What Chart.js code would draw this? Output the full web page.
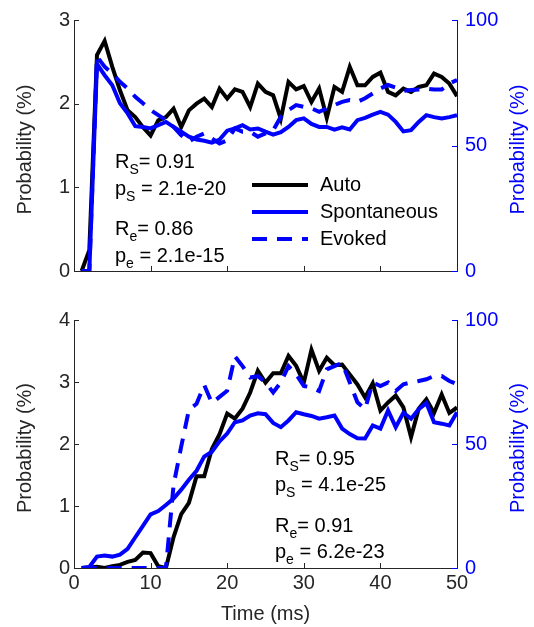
<!DOCTYPE html>
<html>
<head>
<meta charset="utf-8">
<script src="https://cdn.jsdelivr.net/npm/chart.js@4.4.1/dist/chart.umd.min.js"></script>
<style>
  body { margin: 0; background: #fff; }
  #wrap { position: relative; width: 534px; height: 627px; }
  canvas { position: absolute; left: 0; }
</style>
</head>
<body>
<div id="wrap">
  <canvas id="topChart" width="534" height="300" style="top:0"></canvas>
  <canvas id="bottomChart" width="534" height="327" style="top:300px"></canvas>
</div>
<script>
// Time bins (ms)
const timeMs = [1, 2, 3, 4, 5, 6, 7, 8, 9, 10,
  11, 12, 13, 14, 15, 16, 17, 18, 19, 20,
  21, 22, 23, 24, 25, 26, 27, 28, 29, 30,
  31, 32, 33, 34, 35, 36, 37, 38, 39, 40,
  41, 42, 43, 44, 45, 46, 47, 48, 49, 50];

// Upper panel: auto (left axis, %), spontaneous / evoked (right axis, %)
const autoTop = [0, 0.25, 2.58, 2.75, 2.44, 2.16, 1.92, 1.84, 1.72, 1.62,
  1.80, 1.84, 1.94, 1.72, 1.92, 2.00, 2.06, 1.96, 2.18, 2.06,
  2.17, 2.14, 1.96, 2.24, 2.14, 2.10, 1.82, 2.26, 2.17, 2.21,
  2.02, 2.18, 1.83, 2.20, 2.14, 2.44, 2.22, 2.22, 2.32, 2.37,
  2.14, 2.10, 2.18, 2.14, 2.20, 2.22, 2.36, 2.32, 2.24, 2.09];
const spontTop = [0, 0, 82.5, 78.0, 74.0, 66.8, 62.8, 57.7, 57.4, 56.8,
  58.1, 59.4, 57.4, 55.5, 53.5, 52.4, 51.9, 51.1, 52.4, 55.9,
  56.8, 58.1, 56.4, 56.8, 55.5, 54.3, 55.3, 57.4, 60.1, 60.8,
  58.6, 57.4, 57.4, 56.3, 57.2, 56.4, 60.1, 61.0, 62.3, 63.4,
  62.3, 59.4, 55.6, 56.1, 59.4, 62.1, 61.3, 60.8, 61.3, 62.1];
const evokedTop = [0, 0, 85.4, 81.4, 78.7, 75.4, 72.7, 69.4, 66.8, 64.1,
  62.1, 60.1, 57.4, 54.1, 51.5, 53.5, 54.8, 52.8, 50.8, 52.1,
  56.8, 55.5, 55.5, 53.5, 54.8, 56.1, 61.4, 64.1, 66.1, 65.4,
  64.8, 63.4, 64.8, 66.1, 67.4, 68.1, 67.4, 68.8, 70.7, 72.7,
  74.1, 73.1, 71.8, 72.1, 72.3, 72.7, 72.3, 72.3, 74.7, 76.1];

// Lower panel
const autoBottom = [0, 0.01, 0.02, 0, 0.03, 0.05, 0.10, 0.13, 0.25, 0.24,
  0.03, 0, 0.50, 0.87, 1.05, 1.48, 1.48, 1.92, 2.16, 2.49,
  2.41, 2.57, 2.83, 3.18, 2.99, 3.14, 3.14, 3.42, 3.26, 2.99,
  3.52, 3.18, 3.39, 3.27, 3.28, 3.12, 2.96, 2.75, 2.98, 2.54,
  2.67, 2.78, 2.59, 2.11, 2.57, 2.72, 2.50, 2.80, 2.50, 2.59];
const spontBottom = [0, 0.4, 4.6, 5.0, 4.6, 5.4, 7.7, 12.4, 17.0, 21.6,
  23.0, 25.4, 28.0, 31.6, 35.6, 39.2, 44.9, 46.9, 51.1, 54.2,
  58.8, 59.5, 61.5, 62.4, 62.0, 58.5, 56.8, 59.5, 62.8, 62.0,
  61.3, 60.2, 60.8, 61.5, 56.2, 54.0, 52.3, 52.2, 57.5, 56.2,
  63.5, 56.8, 62.6, 60.2, 64.0, 66.5, 58.8, 58.2, 57.5, 62.8];
const evokedBottom = [0, 0, 0, 0, 0, 0, 0, 0, 0, 0,
  0, 0, 33.5, 49.0, 63.8, 66.2, 73.8, 66.5, 69.0, 71.5,
  85.4, 81.4, 76.8, 77.4, 74.8, 70.8, 74.8, 81.4, 78.1, 73.4,
  72.8, 71.4, 80.1, 81.4, 82.7, 74.8, 66.8, 64.1, 74.8, 73.4,
  74.8, 71.4, 74.1, 74.8, 75.4, 76.1, 77.4, 77.4, 75.4, 74.1];

// Correlation text for each panel: [symbol, subscript, rest]
const statsTop = [['R', 'S', '= 0.91'], ['p', 'S', ' = 2.1e-20'], ['R', 'e', '= 0.86'], ['p', 'e', ' = 2.1e-15']];
const statsBottom = [['R', 'S', '= 0.95'], ['p', 'S', ' = 4.1e-25'], ['R', 'e', '= 0.91'], ['p', 'e', ' = 6.2e-23']];

const seriesNames = ['Auto', 'Spontaneous', 'Evoked'];
const yTitle = 'Probability (%)';

const GRAY = '#262626';
const BLUE = '#0000ff';
const FAMILY = '"Liberation Sans", Arial, Helvetica, sans-serif';
const FONT = { family: FAMILY, size: 20 };

function toPoints(values) {
  return values.map((v, i) => ({ x: timeMs[i], y: v }));
}

function buildDatasets(auto, spont, evoked) {
  return [
    { label: seriesNames[2], data: toPoints(evoked), yAxisID: 'y2', borderColor: BLUE,
      borderWidth: 4, borderDash: [15, 10], pointRadius: 0, tension: 0, order: 1 },
    { label: seriesNames[1], data: toPoints(spont), yAxisID: 'y2', borderColor: BLUE,
      borderWidth: 4, pointRadius: 0, tension: 0, order: 2 },
    { label: seriesNames[0], data: toPoints(auto), yAxisID: 'y', borderColor: '#000',
      borderWidth: 4, pointRadius: 0, tension: 0, order: 3 }
  ];
}

function buildScales(leftMax, withTime) {
  return {
    x: {
      type: 'linear', min: 0, max: 50,
      ticks: { stepSize: 10, display: withTime, color: GRAY, font: FONT, padding: 3, maxRotation: 0 },
      grid: { drawOnChartArea: false, drawTicks: false },
      border: { color: GRAY, width: 1 },
      title: { display: withTime, text: 'Time (ms)', color: GRAY, font: FONT, padding: { top: 0, bottom: 1 } },
      afterFit: s => { s.height = withTime ? 59 : 29; }
    },
    y: {
      position: 'left', min: 0, max: leftMax,
      ticks: { stepSize: 1, color: GRAY, font: FONT, padding: 4 },
      grid: { drawOnChartArea: false, drawTicks: false },
      border: { color: GRAY, width: 1 },
      title: { display: false },
      afterFit: s => { s.width = 74; }
    },
    y2: {
      position: 'right', min: 0, max: 100,
      ticks: { stepSize: 50, color: BLUE, font: FONT, padding: 8 },
      grid: { drawOnChartArea: false, drawTicks: false },
      border: { color: BLUE, width: 1 },
      title: { display: false },
      afterFit: s => { s.width = 77; }
    }
  };
}

// inward tick marks, axis titles, correlation text and the line legend
const panelDecor = {
  id: 'panelDecor',
  afterDatasetsDraw(chart, args, opts) {
    const { ctx, chartArea: area, scales } = chart;
    ctx.save();
    ctx.lineWidth = 1;

    const tick = (color, x1, y1, x2, y2) => {
      ctx.strokeStyle = color;
      ctx.beginPath();
      ctx.moveTo(x1, y1);
      ctx.lineTo(x2, y2);
      ctx.stroke();
    };
    scales.y.ticks.forEach(t => {
      const py = Math.round(scales.y.getPixelForValue(t.value)) + 0.5;
      tick(GRAY, area.left, py, area.left + 5, py);
    });
    scales.y2.ticks.forEach(t => {
      const py = Math.round(scales.y2.getPixelForValue(t.value)) + 0.5;
      tick(BLUE, area.right - 5, py, area.right, py);
    });
    scales.x.ticks.forEach(t => {
      const px = Math.round(scales.x.getPixelForValue(t.value)) + 0.5;
      tick(GRAY, px, area.bottom, px, area.bottom - 5);
    });

    // both y titles read bottom to top
    const midY = (area.top + area.bottom) / 2 + 4;
    ctx.font = '20px ' + FAMILY;
    ctx.textAlign = 'center';
    ctx.textBaseline = 'middle';
    [[25, GRAY], [518, BLUE]].forEach(([tx, color]) => {
      ctx.save();
      ctx.translate(tx, midY);
      ctx.rotate(-Math.PI / 2);
      ctx.fillStyle = color;
      ctx.fillText(yTitle, 0, 0);
      ctx.restore();
    });

    // R / p values with subscripts
    ctx.fillStyle = '#000';
    ctx.textAlign = 'left';
    ctx.textBaseline = 'alphabetic';
    opts.stats.forEach((row, i) => {
      let x = area.left + opts.statsX;
      const y = area.top + opts.statsY[i];
      ctx.font = '20px ' + FAMILY;
      ctx.fillText(row[0], x, y);
      x += ctx.measureText(row[0]).width;
      ctx.font = '14px ' + FAMILY;
      ctx.fillText(row[1], x, y + 6);
      x += ctx.measureText(row[1]).width;
      ctx.font = '20px ' + FAMILY;
      ctx.fillText(row[2], x, y);
    });

    if (opts.legend) {
      const lg = opts.legend;
      const order = [2, 1, 0];
      ctx.textBaseline = 'middle';
      order.forEach((di, row) => {
        const ds = chart.data.datasets[di];
        const y = area.top + lg.y[row];
        ctx.strokeStyle = ds.borderColor;
        ctx.lineWidth = ds.borderWidth;
        ctx.setLineDash(ds.borderDash || []);
        ctx.beginPath();
        ctx.moveTo(area.left + lg.x1, y);
        ctx.lineTo(area.left + lg.x2, y);
        ctx.stroke();
        ctx.setLineDash([]);
        ctx.fillStyle = '#000';
        ctx.font = '20px ' + FAMILY;
        ctx.fillText(ds.label, area.left + lg.textX, y);
      });
    }
    ctx.restore();
  }
};

function makeChart(id, auto, spont, evoked, leftMax, withTime, padTop, decor) {
  return new Chart(document.getElementById(id), {
    type: 'line',
    data: { datasets: buildDatasets(auto, spont, evoked) },
    options: {
      responsive: false,
      animation: false,
      layout: { padding: { top: padTop, left: 0, right: 0, bottom: 0 } },
      scales: buildScales(leftMax, withTime),
      plugins: {
        legend: { display: false },
        tooltip: { enabled: false },
        panelDecor: decor
      }
    },
    plugins: [panelDecor]
  });
}

makeChart('topChart', autoTop, spontTop, evokedTop, 3, false, 20, {
  stats: statsTop, statsX: 41, statsY: [148, 175, 215, 242],
  legend: { x1: 178, x2: 234, textX: 246, y: [165, 192, 219] }
});

makeChart('bottomChart', autoBottom, spontBottom, evokedBottom, 4, true, 17, {
  stats: statsBottom, statsX: 201, statsY: [145, 171, 212, 238],
  legend: null
});
</script>
</body>
</html>
